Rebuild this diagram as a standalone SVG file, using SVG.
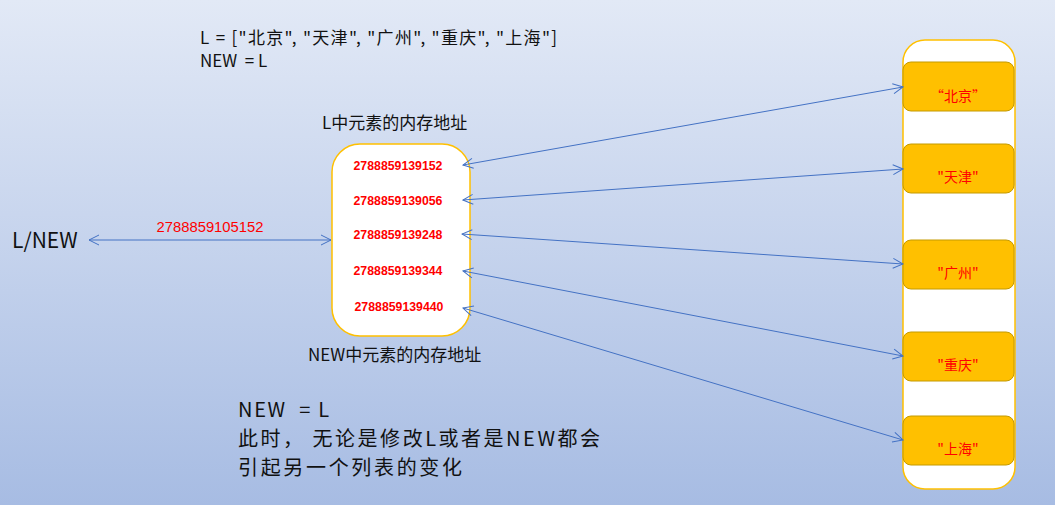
<svg xmlns="http://www.w3.org/2000/svg" width="1055" height="505" viewBox="0 0 1055 505">
<defs>
<linearGradient id="bg" x1="0" y1="0" x2="0" y2="1">
<stop offset="0" stop-color="#e2e9f6"/>
<stop offset="1" stop-color="#a7bce3"/>
</linearGradient>
<marker id="ah" viewBox="0 0 12 12" refX="11" refY="6" markerWidth="12" markerHeight="12" markerUnits="userSpaceOnUse" orient="auto-start-reverse">
<path d="M1,1 L11,6 L1,11" fill="none" stroke="#4472c4" stroke-width="1"/>
</marker>
<style>
.t{font-family:"Noto Sans CJK SC","Liberation Sans",sans-serif;fill:#111;white-space:pre}
.addr{font-family:"Liberation Sans",Arial,sans-serif;font-size:12.3px;font-weight:bold;fill:#ff0000;text-anchor:middle}
.cell{fill:#ffc000;stroke:#c49a00;stroke-width:1}
.city{font-family:"Noto Sans CJK SC","Liberation Sans",sans-serif;font-size:14px;fill:#ff0000;text-anchor:middle}
.conn{stroke:#4472c4;stroke-width:1;fill:none;marker-start:url(#ah);marker-end:url(#ah)}
</style>
</defs>
<rect width="1055" height="505" fill="url(#bg)"/>
<text class="t" x="200" y="44" font-size="17" textLength="357" lengthAdjust="spacing">L = ["北京", "天津", "广州", "重庆", "上海"]</text>
<text class="t" x="200" y="67" font-size="17" xml:space="preserve">NEW  = L</text>
<text class="t" x="12" y="248" font-size="21">L/NEW</text>
<g id="list-node">
<rect x="332" y="144" width="138" height="192" rx="28" fill="#fff" stroke="#ffc000" stroke-width="1.5"/>
<text class="addr" x="398" y="170">2788859139152</text>
<text class="addr" x="398" y="205">2788859139056</text>
<text class="addr" x="398" y="239">2788859139248</text>
<text class="addr" x="398" y="275">2788859139344</text>
<text class="addr" x="399" y="311">2788859139440</text>
</g>
<text class="t" x="322" y="129" font-size="17">L中元素的内存地址</text>
<text class="t" x="308" y="361" font-size="17">NEW中元素的内存地址</text>
<g id="string-store">
<rect x="903" y="40" width="112" height="449" rx="22" fill="#fff" stroke="#ffc000" stroke-width="1.5"/>
</g>
<g id="s1"><rect class="cell" x="903" y="62" width="111" height="49" rx="8"/><text class="city" x="958" y="101">“北京”</text></g>
<g id="s2"><rect class="cell" x="903" y="144" width="111" height="49" rx="8"/><text class="city" x="958" y="182">"天津"</text></g>
<g id="s3"><rect class="cell" x="903" y="240" width="111" height="49" rx="8"/><text class="city" x="958" y="278">"广州"</text></g>
<g id="s4"><rect class="cell" x="903" y="332" width="111" height="49" rx="8"/><text class="city" x="958" y="370">"重庆"</text></g>
<g id="s5"><rect class="cell" x="903" y="416" width="111" height="49" rx="8"/><text class="city" x="958" y="454">"上海"</text></g>
<g id="connectors">
<line class="conn" x1="89" y1="240" x2="331" y2="240"/>
<line class="conn" x1="463" y1="165" x2="903" y2="87"/>
<line class="conn" x1="463" y1="200" x2="903" y2="169"/>
<line class="conn" x1="462" y1="234" x2="903" y2="264"/>
<line class="conn" x1="463" y1="271" x2="903" y2="356"/>
<line class="conn" x1="463" y1="308" x2="903" y2="440"/>
</g>
<text x="210" y="232" font-family="Liberation Sans, Arial, sans-serif" font-size="14.8" fill="#ff0000" text-anchor="middle">2788859105152</text>
<text class="t" font-size="20" xml:space="preserve"><tspan x="238" y="417" textLength="91" lengthAdjust="spacing">NEW  = L</tspan><tspan x="238" y="446" textLength="362" lengthAdjust="spacing">此时， 无论是修改L或者是NEW都会</tspan><tspan x="238" y="475" textLength="224" lengthAdjust="spacing">引起另一个列表的变化</tspan></text>
</svg>
